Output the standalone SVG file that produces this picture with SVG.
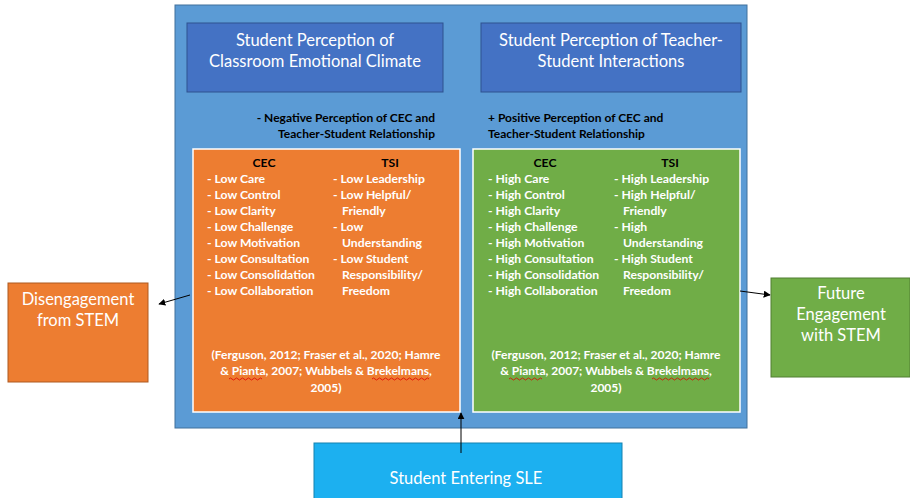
<svg xmlns="http://www.w3.org/2000/svg" width="910" height="498" viewBox="0 0 910 498">
<defs>
<marker id="ah" viewBox="0 0 10 10" refX="9" refY="5" markerWidth="7" markerHeight="7" orient="auto-start-reverse" markerUnits="userSpaceOnUse">
<path d="M0,0 L10,5 L0,10 z" fill="#000"/>
</marker>
</defs>
<style>
text{font-family:Lato,"Open Sans","Liberation Sans",sans-serif;}
.t{fill:#fff;font-size:16.5px;text-anchor:middle;}
.s{fill:#000;font-size:12px;font-weight:bold;}
.i{fill:#fff;font-size:12.2px;font-weight:bold;}
.h{fill:#000;font-size:12.2px;font-weight:bold;text-anchor:middle;}
.c{fill:#fff;font-size:12px;font-weight:bold;text-anchor:middle;}
.conn{stroke:#000;stroke-width:1;fill:none;marker-end:url(#ah);}
.wavy{stroke:#d00;stroke-width:0.8;fill:none;}
</style>
<rect width="910" height="498" fill="#fff"/>
<g id="outer">
<rect x="175" y="5" width="572" height="423" fill="#5B9BD5" stroke="#41719C" stroke-width="1"/>
</g>
<g id="title-cec">
<rect x="187" y="23" width="256" height="69" fill="#4472C4" stroke="#2F528F" stroke-width="1"/>
<text class="t" x="315" y="46">Student Perception of</text>
<text class="t" x="315" y="67">Classroom Emotional Climate</text>
</g>
<g id="title-tsi">
<rect x="481" y="23" width="260" height="69" fill="#4472C4" stroke="#2F528F" stroke-width="1"/>
<text class="t" x="611" y="46">Student Perception of Teacher-</text>
<text class="t" x="611" y="67">Student Interactions</text>
</g>
<g id="label-neg">
<text class="s" x="435" y="122" text-anchor="end">- Negative Perception of CEC and</text>
<text class="s" x="435" y="138" text-anchor="end">Teacher-Student Relationship</text>
</g>
<g id="label-pos">
<text class="s" x="488" y="122">+ Positive Perception of CEC and</text>
<text class="s" x="488" y="138">Teacher-Student Relationship</text>
</g>
<g id="negative">
<rect x="193" y="149" width="267" height="263" fill="#ED7D31" stroke="#fff" stroke-width="1.5"/>
<text class="h" x="264" y="167">CEC</text>
<text class="h" x="390" y="167">TSI</text>
<text class="i" x="207" y="183">- Low Care</text>
<text class="i" x="207" y="199">- Low Control</text>
<text class="i" x="207" y="215">- Low Clarity</text>
<text class="i" x="207" y="231">- Low Challenge</text>
<text class="i" x="207" y="247">- Low Motivation</text>
<text class="i" x="207" y="263">- Low Consultation</text>
<text class="i" x="207" y="279">- Low Consolidation</text>
<text class="i" x="207" y="295">- Low Collaboration</text>
<text class="i" x="333" y="183">- Low Leadership</text>
<text class="i" x="333" y="199">- Low Helpful/</text>
<text class="i" x="342" y="215">Friendly</text>
<text class="i" x="333" y="231">- Low</text>
<text class="i" x="342" y="247">Understanding</text>
<text class="i" x="333" y="263">- Low Student</text>
<text class="i" x="342" y="279">Responsibility/</text>
<text class="i" x="342" y="295">Freedom</text>
<text class="c" x="326" y="359">(Ferguson, 2012; Fraser et al., 2020; Hamre</text>
<text class="c" x="326" y="375">&amp; Pianta, 2007; Wubbels &amp; Brekelmans,</text>
<text class="c" x="326" y="392">2005)</text>
<path class="wavy" d="M229,379 q1.5,-2 3,0 t3,0 t3,0 t3,0 t3,0 t3,0 t3,0 t3,0 t3,0 t3,0 t3,0"/>
<path class="wavy" d="M372,379 q1.5,-2 3,0 t3,0 t3,0 t3,0 t3,0 t3,0 t3,0 t3,0 t3,0 t3,0 t3,0 t3,0 t3,0 t3,0 t3,0 t3,0 t3,0 t3,0 t3,0"/>
</g>
<g id="positive">
<rect x="473" y="149" width="267" height="263" fill="#70AD47" stroke="#fff" stroke-width="1.5"/>
<text class="h" x="545" y="167">CEC</text>
<text class="h" x="670" y="167">TSI</text>
<text class="i" x="488" y="183">- High Care</text>
<text class="i" x="488" y="199">- High Control</text>
<text class="i" x="488" y="215">- High Clarity</text>
<text class="i" x="488" y="231">- High Challenge</text>
<text class="i" x="488" y="247">- High Motivation</text>
<text class="i" x="488" y="263">- High Consultation</text>
<text class="i" x="488" y="279">- High Consolidation</text>
<text class="i" x="488" y="295">- High Collaboration</text>
<text class="i" x="614" y="183">- High Leadership</text>
<text class="i" x="614" y="199">- High Helpful/</text>
<text class="i" x="623" y="215">Friendly</text>
<text class="i" x="614" y="231">- High</text>
<text class="i" x="623" y="247">Understanding</text>
<text class="i" x="614" y="263">- High Student</text>
<text class="i" x="623" y="279">Responsibility/</text>
<text class="i" x="623" y="295">Freedom</text>
<text class="c" x="606" y="359">(Ferguson, 2012; Fraser et al., 2020; Hamre</text>
<text class="c" x="606" y="375">&amp; Pianta, 2007; Wubbels &amp; Brekelmans,</text>
<text class="c" x="606" y="392">2005)</text>
<path class="wavy" d="M509,379 q1.5,-2 3,0 t3,0 t3,0 t3,0 t3,0 t3,0 t3,0 t3,0 t3,0 t3,0 t3,0"/>
<path class="wavy" d="M652,379 q1.5,-2 3,0 t3,0 t3,0 t3,0 t3,0 t3,0 t3,0 t3,0 t3,0 t3,0 t3,0 t3,0 t3,0 t3,0 t3,0 t3,0 t3,0 t3,0 t3,0"/>
</g>
<g id="disengagement">
<rect x="8" y="283" width="140" height="99" fill="#ED7D31" stroke="#AE5A21" stroke-width="1"/>
<text class="t" x="78" y="305">Disengagement</text>
<text class="t" x="78" y="326">from STEM</text>
</g>
<g id="future">
<rect x="771" y="278" width="139" height="99" fill="#70AD47" stroke="#507E32" stroke-width="1"/>
<text class="t" x="841" y="299">Future</text>
<text class="t" x="841" y="320">Engagement</text>
<text class="t" x="841" y="341">with STEM</text>
</g>
<g id="entering">
<rect x="314" y="443" width="308" height="60" fill="#1CB0F0" stroke="#1582B0" stroke-width="1"/>
<text class="t" x="466" y="484">Student Entering SLE</text>
</g>
<g id="connectors">
<line class="conn" x1="190" y1="295" x2="159" y2="304"/>
<line class="conn" x1="740" y1="291" x2="770" y2="295"/>
<line class="conn" x1="461" y1="453" x2="461" y2="413"/>
</g>
</svg>
